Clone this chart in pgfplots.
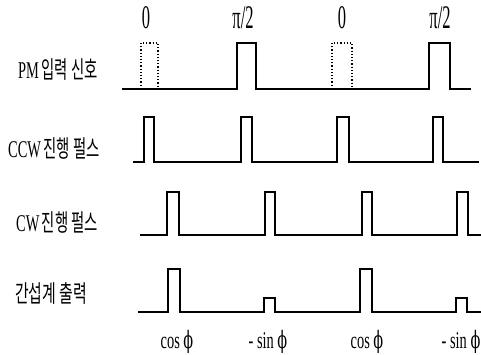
\documentclass[border=0pt]{standalone}
\usepackage{fontspec}
\setmainfont{Liberation Serif}
\newfontfamily\kr{Noto Sans CJK KR}
\newfontfamily\dv{DejaVu Serif}
\usepackage{pgfplots}
\pgfplotsset{compat=1.18}
\newcommand{\lab}[2]{\scalebox{#1}[1]{#2}}
\begin{document}
\begin{tikzpicture}
\useasboundingbox (0,0) rectangle (481pt,355pt);
\begin{axis}[hide axis, scale only axis, width=481pt, height=355pt,
  xmin=0, xmax=481, ymin=0, ymax=355, clip=false,
  sig/.style={black, solid, line width=1.5pt, mark=none, line join=miter},
  dot/.style={black, dotted, line width=1.2pt, mark=none}]
% Row 1: PM input signal
\addplot[sig] coordinates {(122,266)(237,266)(237,312)(256,312)(256,266)(429,266)(429,312)(450,312)(450,266)(471,266)};
\addplot[dot] coordinates {(141,266)(141,312)(158,312)(158,266)};
\addplot[dot] coordinates {(332,266)(332,312)(352,312)(352,266)};
% Row 2: CCW
\addplot[sig] coordinates {(133,193)(144,193)(144,238)(154,238)(154,193)(241,193)(241,238)(252,238)(252,193)(337,193)(337,238)(349,238)(349,193)(433,193)(433,238)(443,238)(443,193)(479,193)};
% Row 3: CW
\addplot[sig] coordinates {(140,120)(167,120)(167,163)(179,163)(179,120)(265,120)(265,163)(275,163)(275,120)(362,120)(362,163)(372,163)(372,120)(457,120)(457,163)(468,163)(468,120)(481,120)};
% Row 4: output
\addplot[sig] coordinates {(138,43)(168,43)(168,86)(180,86)(180,43)(264,43)(264,57)(275,57)(275,43)(360,43)(360,86)(372,86)(372,43)(456,43)(456,57)(467,57)(467,43)(481,43)};
% top labels
\node at (axis cs:146,337) {\fontsize{33}{33}\selectfont\lab{0.5}{0}};
\node at (axis cs:243,337) {\fontsize{33}{33}\selectfont\lab{0.5}{π/2}};
\node at (axis cs:342,337) {\fontsize{33}{33}\selectfont\lab{0.5}{0}};
\node at (axis cs:440,337) {\fontsize{33}{33}\selectfont\lab{0.5}{π/2}};
% row labels
\node[anchor=west, inner sep=0pt] at (axis cs:18,285) {\fontsize{24}{24}\selectfont\lab{0.6}{PM\,{\kr 입력 신호}}};
\node[anchor=west, inner sep=0pt] at (axis cs:8,207) {\fontsize{24}{24}\selectfont\lab{0.6}{CCW\,{\kr 진행 펄스}}};
\node[anchor=west, inner sep=0pt] at (axis cs:16,133) {\fontsize{24}{24}\selectfont\lab{0.6}{CW\,{\kr 진행 펄스}}};
\node[anchor=west, inner sep=0pt] at (axis cs:15,62) {\fontsize{24}{24}\selectfont\lab{0.62}{\kr 간섭계 출력}};
% bottom labels
\node at (axis cs:177,13) {\fontsize{24}{24}\selectfont\lab{0.6}{cos {\dv ϕ}}};
\node at (axis cs:268,13) {\fontsize{24}{24}\selectfont\lab{0.6}{- sin {\dv ϕ}}};
\node at (axis cs:367,13) {\fontsize{24}{24}\selectfont\lab{0.6}{cos {\dv ϕ}}};
\node at (axis cs:461,13) {\fontsize{24}{24}\selectfont\lab{0.6}{- sin {\dv ϕ}}};
\end{axis}
\end{tikzpicture}
\end{document}
